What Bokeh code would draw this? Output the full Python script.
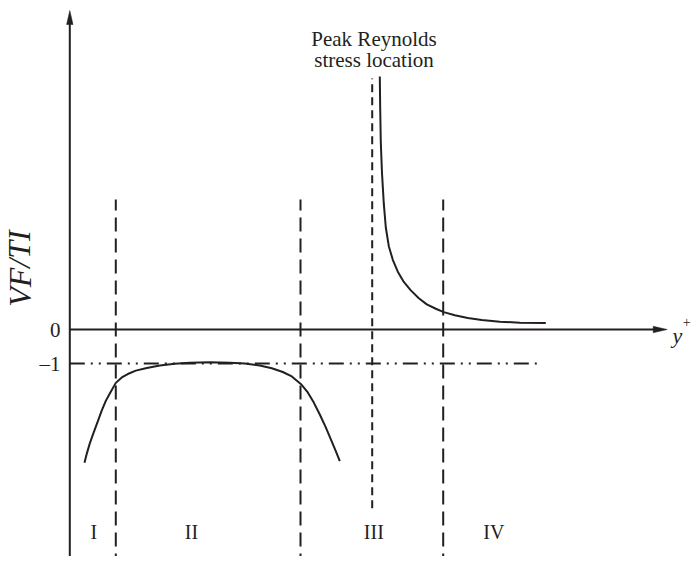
from bokeh.plotting import figure
from bokeh.models import Range1d
from bokeh.embed import file_html
from bokeh.resources import INLINE
from bokeh.core.properties import value

# ---- data (abstract schematic units: x = y+ position, y = VF/TI) ----
curve2_x = [14.7, 17, 20, 24, 28, 32, 36, 40, 46, 52, 58, 66, 77, 90, 105, 120, 140,
            160, 175, 190, 202, 213, 222, 231, 238, 244, 250, 256, 262, 266, 270]
curve2_y = [-3.92, -3.65, -3.35, -3.02, -2.70, -2.38, -2.10, -1.88, -1.57, -1.41, -1.31,
            -1.21, -1.13, -1.06, -1.01, -0.98, -0.965, -0.975, -1.0, -1.06, -1.14, -1.25,
            -1.38, -1.60, -1.85, -2.15, -2.50, -2.88, -3.30, -3.58, -3.87]
curve4_x = [310, 310.4, 311, 312.2, 314, 316, 319, 323, 328, 334, 341, 349, 357, 366,
            374, 385, 398, 412, 430, 450, 476]
curve4_y = [7.44, 6.5, 5.5, 4.6, 3.7, 3.0, 2.45, 2.05, 1.70, 1.40, 1.15, 0.92, 0.74,
            0.61, 0.51, 0.42, 0.34, 0.28, 0.23, 0.20, 0.19]

region_bounds = [46, 230.7, 373.4]      # dashed boundaries between regions
region_top = 3.82
peak_x = 302.4                          # peak Reynolds stress location
peak_y = [-5.26, 7.38]
region_labels = ["I", "II", "III", "IV"]
region_label_x = [24, 121.7, 304, 424]
region_label_y = -5.97
ref_level = -1                          # VF/TI = -1 reference
ref_end = 471
tick_values = [0, -1]
tick_labels = ["0", "\u20131"]
peak_text = ["Peak Reynolds", "stress location"]
peak_text_y = [8.53, 7.94]

x_axis_end = 597.4
y_axis_top = 9.38
y_axis_bottom = -7.0

W, H = 691, 556
X0 = -69.3
X1 = X0 + W              # 1 px per x unit
Y1 = 329 / 34            # 34 px per y unit
Y0 = Y1 - H / 34
px_x = W / (X1 - X0)
px_y = H / (Y1 - Y0)

INK = "#231f20"
SERIF = "Liberation Serif"

p = figure(width=W, height=H, x_range=Range1d(X0, X1), y_range=Range1d(Y0, Y1),
           output_backend="svg", toolbar_location=None, min_border=0)
p.axis.visible = False
p.grid.visible = False
p.outline_line_color = None
p.background_fill_color = "white"

# axes
p.line([0, 0], [y_axis_bottom, y_axis_top - 8 / px_y], line_color=INK, line_width=2)
p.line([0, x_axis_end - 8 / px_x], [0, 0], line_color=INK, line_width=2)
hl, hw = 14, 3.2
p.patch([0 - hw / px_x, 0, 0 + hw / px_x],
        [y_axis_top - hl / px_y, y_axis_top, y_axis_top - hl / px_y],
        fill_color=INK, line_color=INK, line_width=0.5)
p.patch([x_axis_end - hl / px_x, x_axis_end, x_axis_end - hl / px_x],
        [hw / px_y, 0, -hw / px_y],
        fill_color=INK, line_color=INK, line_width=0.5)

# reference dash-dot line at -1
p.line([0, ref_end], [ref_level, ref_level], line_color=INK, line_width=2,
       line_dash="15 6 2 6 2 6")

# region boundaries
for bx in region_bounds:
    p.line([bx, bx], [y_axis_bottom, region_top], line_color=INK, line_width=2,
           line_dash="14 7")
# peak Reynolds stress location
p.line([peak_x, peak_x], peak_y, line_color=INK, line_width=2, line_dash="8 5")

# curves
p.line(curve2_x, curve2_y, line_color=INK, line_width=2)
p.line(curve4_x, curve4_y, line_color=INK, line_width=2)

# texts
p.text(x=region_label_x, y=[region_label_y] * 4, text=region_labels,
       text_font=value(SERIF), text_font_size="20px", text_color=INK,
       text_align="center", text_baseline="middle")
p.text(x=[-9.3, -9.3], y=tick_values, text=tick_labels,
       text_font=value(SERIF), text_font_size="21px", text_color=INK,
       text_align="right", text_baseline="middle")
p.text(x=[peak_x + 1.8, peak_x + 1.8], y=peak_text_y, text=peak_text,
       text_font=value(SERIF), text_font_size="21px", text_color=INK,
       text_align="center", text_baseline="middle")
p.text(x=[-50.3], y=[1.79], text=["VF/TI"], angle=1.5708,
       text_font=value(SERIF), text_font_size="32px", text_font_style="italic",
       text_color=INK, text_align="center", text_baseline="middle")
p.text(x=[x_axis_end + 5.3], y=[-0.176], text=["y"],
       text_font=value(SERIF), text_font_size="22px", text_font_style="italic",
       text_color=INK, text_align="left", text_baseline="alphabetic")
p.text(x=[x_axis_end + 15.6], y=[0.206], text=["+"],
       text_font=value(SERIF), text_font_size="14px",
       text_color=INK, text_align="left", text_baseline="middle")

open("out.html", "w").write(file_html(p, INLINE))
